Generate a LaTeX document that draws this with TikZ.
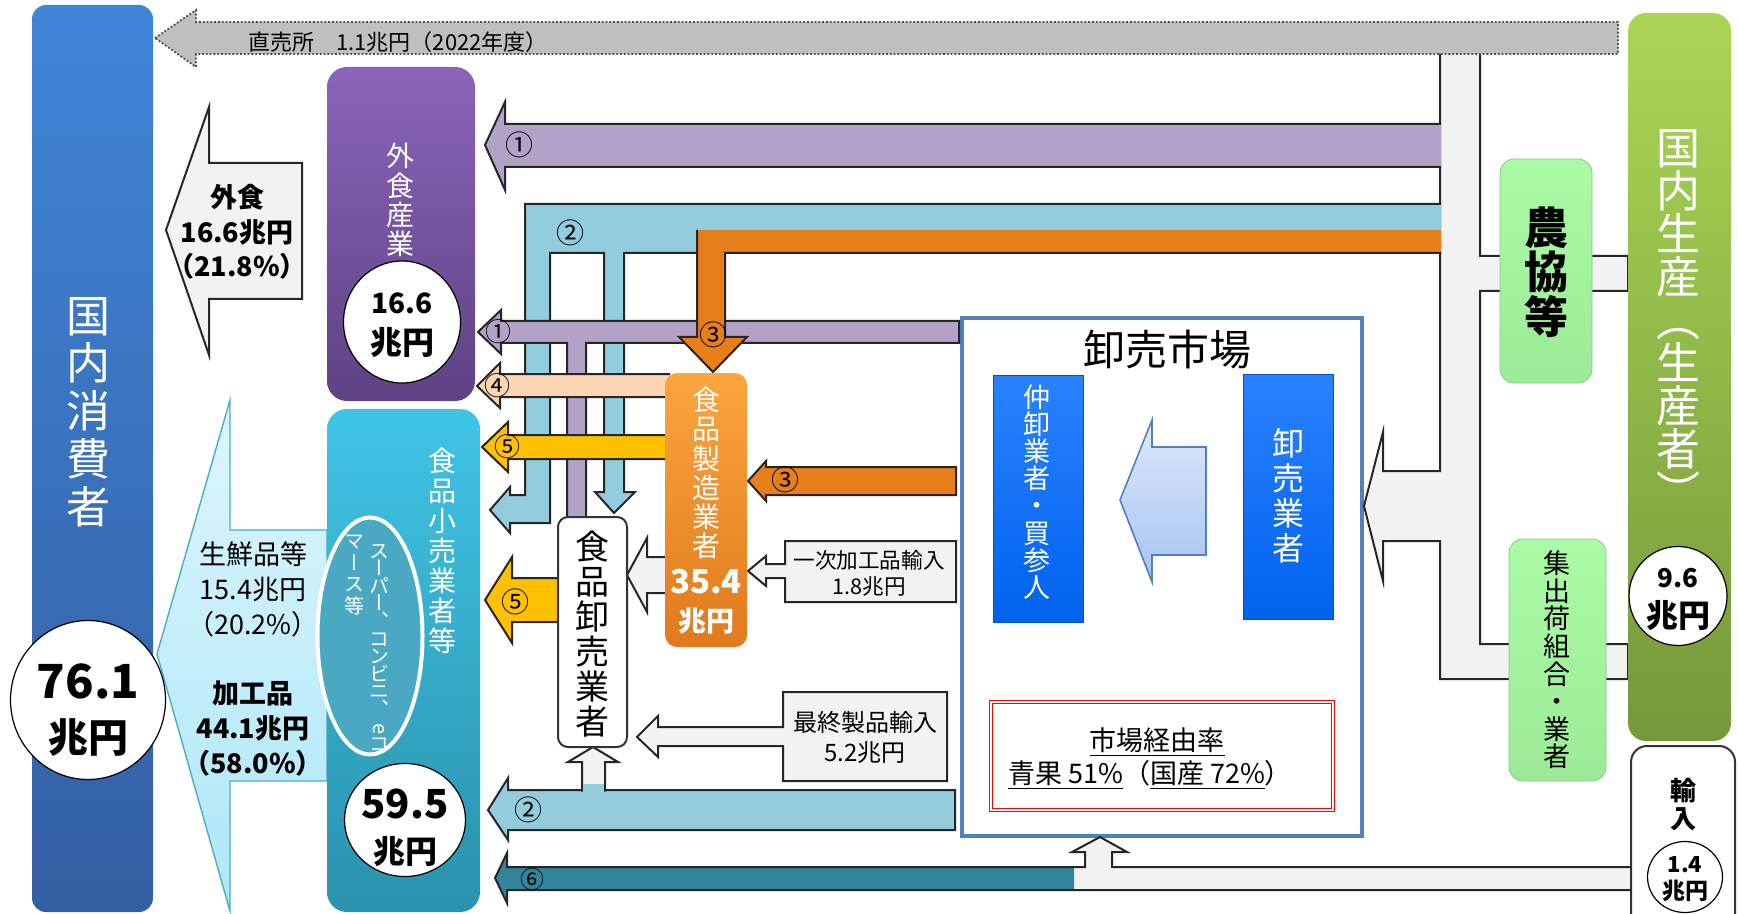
\documentclass[tikz,border=0pt]{standalone}
\usepackage{fontspec}
\usepackage{graphicx}
\setmainfont{Noto Sans CJK JP}
\newfontfamily\jpv{Noto Sans CJK JP}[RawFeature=+vert]
\usetikzlibrary{shapes.geometric}
\definecolor{cA}{HTML}{B3A2C7}
\definecolor{cB}{HTML}{93CDDD}
\definecolor{cC}{HTML}{E67E1A}
\definecolor{cD}{HTML}{FCD5B5}
\definecolor{cE}{HTML}{FFC000}
\definecolor{cF}{HTML}{31849B}
\definecolor{cG}{HTML}{F2F2F2}
\definecolor{cGray}{HTML}{BFBFBF}
\definecolor{consT}{HTML}{4085D8}
\definecolor{consB}{HTML}{345FA3}
\definecolor{gaiT}{HTML}{8B64BA}
\definecolor{gaiB}{HTML}{5E4283}
\definecolor{retT}{HTML}{40C4E6}
\definecolor{retB}{HTML}{2A92AC}
\definecolor{ellC}{HTML}{4AA8C2}
\definecolor{mfgT}{HTML}{FBA53E}
\definecolor{mfgB}{HTML}{E07A1E}
\definecolor{blT}{HTML}{2A82FF}
\definecolor{blB}{HTML}{0062EE}
\definecolor{blD}{HTML}{0050C0}
\definecolor{mktB}{HTML}{4F81BD}
\definecolor{maT}{HTML}{DDE8FB}
\definecolor{maB}{HTML}{A6C3F2}
\definecolor{grT}{HTML}{ABFBA6}
\definecolor{grB}{HTML}{9CEA97}
\definecolor{grD}{HTML}{86C982}
\definecolor{prT}{HTML}{AAD655}
\definecolor{prB}{HTML}{76983A}
\definecolor{lbT}{HTML}{DCF5FD}
\definecolor{lbB}{HTML}{AEE7F7}
\definecolor{lbD}{HTML}{4BACC6}
\makeatletter
\newcommand\vt[2]{\vbox{\baselineskip=#1\relax\lineskiplimit=-100pt\lineskip=0pt\vt@loop#2\@nil}}
\def\vt@loop#1{\ifx\@nil#1\else\hbox to 1.1em{\hss#1\hss}\expandafter\vt@loop\fi}
\makeatother
\begin{document}
\begin{tikzpicture}[x=0.5pt,y=-0.5pt,
  flow/.style={draw=black!85,line width=1pt,line join=miter,miter limit=20},
  wt/.style={text=white,inner sep=0pt},
  bt/.style={text=black,inner sep=0pt},
  circ/.style={ellipse,draw=black,line width=0.6pt,fill=white,inner sep=0pt},
  lab/.style={inner sep=0pt,font=\fontsize{13}{13}\selectfont},
  labbig/.style={inner sep=0pt,font=\fontsize{14}{14}\selectfont}]
\useasboundingbox (0,0) rectangle (1738,914);
\fill[white] (0,0) rectangle (1738,914);

% market frame
\draw[draw=mktB,line width=2.2pt] (962,318) rectangle (1362,836);

% trunk from producers
\draw[flow,fill=cG] (1440,53) -- (1440,471) -- (1383,471) -- (1383,432) -- (1364,506) -- (1383,581) -- (1383,541) -- (1440,541) -- (1440,679) -- (1628,679) -- (1628,644) -- (1480,644) -- (1480,291) -- (1628,291) -- (1628,256) -- (1480,256) -- (1480,53);

% direct sales arrow
\draw[densely dotted,draw=black!70,line width=0.9pt,fill=cGray] (155,38) -- (196,10) -- (196,22) -- (1618,22) -- (1618,54) -- (196,54) -- (196,67) -- cycle;
\node[bt,font=\fontsize{11}{11}\selectfont] (tdirect) at (398,42) {直売所　1.1兆円（2022年度）};

% food service -> consumers
\draw[flow,fill=cG] (166,230) -- (209,107) -- (209,163) -- (302,163) -- (302,299) -- (209,299) -- (209,355) -- cycle;
% retail -> consumers
\draw[draw=lbD,line width=0.7pt,top color=lbT,bottom color=lbB] (157,654) -- (230,400) -- (230,530) -- (327,530) -- (327,781) -- (230,781) -- (230,911) -- cycle;

% flow 1 upper
\draw[flow,fill=cA] (1441,124) -- (505,124) -- (505,102) -- (485,145) -- (505,190) -- (505,167) -- (1441,167);
% flow 2 (light blue)
\draw[flow,fill=cB] (1441,204) -- (525,204) -- (525,495) -- (510,495) -- (510,487) -- (490,510) -- (510,533) -- (510,523) -- (550,523) -- (550,253) -- (604,253) -- (604,492) -- (595,492) -- (614,513) -- (635,492) -- (624,492) -- (624,253) -- (1441,253);
% flow 1 lower (from market)
\draw[flow,fill=cA] (959,321) -- (501,321) -- (501,310) -- (478,332) -- (501,354) -- (501,343) -- (567,343) -- (567,517) -- (586,517) -- (586,343) -- (959,343) -- cycle;
% flow 3 (orange)
\fill[cC] (697,230) rectangle (1441,253);
\draw[flow,fill=cC] (697,230) -- (697,337) -- (679,337) -- (713,372) -- (747,337) -- (725,337) -- (725,253) -- (1441,253);
% flow 4, 5
\draw[flow,fill=cD] (670,374) -- (500,374) -- (500,363) -- (477,386) -- (500,408) -- (500,397) -- (670,397);
\draw[flow,fill=cE] (670,435) -- (508,435) -- (508,422) -- (482,447) -- (508,472) -- (508,459) -- (670,459);
\draw[flow,fill=cE] (562,578) -- (512,578) -- (512,557) -- (485,600) -- (512,643) -- (512,622) -- (562,622);
% manufacturer -> wholesaler
\draw[flow,fill=cG] (669,557) -- (647,557) -- (647,538) -- (627,575) -- (647,612) -- (647,593) -- (669,593);
% imports
\draw[flow,fill=cG] (785,541) -- (956,541) -- (956,602) -- (785,602) -- (785,578) -- (766,578) -- (766,586) -- (748,571) -- (766,556) -- (766,564) -- (785,564) -- cycle;
\node[bt,align=center,font=\fontsize{10.8}{13}\selectfont] (timp1) at (869,573) {一次加工品輸入\\1.8兆円};
\draw[flow,fill=cG] (783,692) -- (947,692) -- (947,781) -- (783,781) -- (783,746) -- (658,746) -- (658,757) -- (637,737) -- (658,716) -- (658,727) -- (783,727) -- cycle;
\node[bt,align=center,font=\fontsize{12}{15}\selectfont] (timp2) at (865,737) {最終製品輸入\\5.2兆円};
% flow 3 lower
\draw[flow,fill=cC] (956,467) -- (766,467) -- (766,461) -- (748,481) -- (766,501) -- (766,495) -- (956,495) -- cycle;
% flow 2 lower
\draw[flow,fill=cB] (955,790) -- (508,790) -- (508,778) -- (488,810) -- (508,840) -- (508,830) -- (955,830) -- cycle;
\draw[flow,fill=cG] (582,791.5) -- (582,762) -- (568,762) -- (593,747) -- (618,762) -- (605,762) -- (605,791.5);
\fill[cB] (583,784) rectangle (604,792);
% flow 6
\fill[cG] (1631,867) -- (1112,867) -- (1112,852) -- (1127,852) -- (1100,837) -- (1072,852) -- (1085,852) -- (1085,867) -- (507,867) -- (507,853) -- (495,878) -- (507,903) -- (507,890) -- (1631,890) -- cycle;
\fill[cF] (1074,867) -- (507,867) -- (507,853) -- (495,878) -- (507,903) -- (507,890) -- (1074,890) -- cycle;
\draw[flow] (1631,867) -- (1112,867) -- (1112,852) -- (1127,852) -- (1100,837) -- (1072,852) -- (1085,852) -- (1085,867) -- (507,867) -- (507,853) -- (495,878) -- (507,903) -- (507,890) -- (1631,890);

% consumers
\path[rounded corners=7pt,top color=consT,bottom color=consB] (32,5) rectangle (153,912);
\node[wt,font=\jpv\fontsize{22}{22}\selectfont] (tcons) at (88,412) {\vt{23.9pt}{国内消費者}};
\node[circ,minimum width=77.5pt,minimum height=79.5pt] (c761) at (88,700) {};
\node[bt,font=\bfseries\fontsize{23.5}{24}\selectfont] (n761) at (88,681) {76.1};
\node[bt,font=\bfseries\fontsize{20}{20}\selectfont] (u761) at (88,738) {兆円};

\node[bt,align=center,font=\bfseries\fontsize{13.5}{17.2}\selectfont] (tgaiflow) at (237,232) {外食\\16.6兆円\\（21.8\%）};
\node[bt,align=center,font=\fontsize{13.5}{17.5}\selectfont] (tfresh) at (253,589) {生鮮品等\\15.4兆円\\（20.2\%）};
\node[bt,align=center,font=\bfseries\fontsize{13.5}{17.5}\selectfont] (tproc) at (253,729) {加工品\\44.1兆円\\（58.0\%）};

% food service industry
\path[rounded corners=10pt,top color=gaiT,bottom color=gaiB] (327,67) rectangle (475,401);
\node[wt,font=\jpv\fontsize{14}{14}\selectfont] (tgai) at (400,200) {\vt{14.6pt}{外食産業}};
\node[circ,minimum width=58.5pt,minimum height=61pt] (c166) at (402,322) {};
\node[bt,font=\bfseries\fontsize{14}{14}\selectfont] (n166) at (402,303) {16.6};
\node[bt,font=\bfseries\fontsize{16}{16}\selectfont] (u166) at (402,343) {兆円};

% retail
\path[rounded corners=10pt,top color=retT,bottom color=retB] (327,409) rectangle (480,912);
\node[wt,font=\jpv\fontsize{14}{14}\selectfont] (tret) at (442,551) {\vt{15pt}{食品小売業者等}};
\node[ellipse,draw=white,line width=2pt,fill=ellC,minimum width=52.5pt,minimum height=118.5pt,inner sep=0pt] (ell) at (370,636) {};
\node[wt,font=\jpv\fontsize{10}{10}\selectfont] (tsup1) at (379,648) {\vt{8.8pt}{スーパー、コンビニ、{\rotatebox[origin=c]{-90}{e}}コ}};
\node[wt,font=\jpv\fontsize{10}{10}\selectfont] (tsup2) at (354,575) {\vt{10.8pt}{マース等}};
\node[circ,minimum width=60.5pt,minimum height=56.5pt] (c595) at (405,820) {};
\node[bt,font=\bfseries\fontsize{20}{20}\selectfont] (n595) at (405,804) {59.5};
\node[bt,font=\bfseries\fontsize{16}{16}\selectfont] (u595) at (405,852) {兆円};

% manufacturer
\path[rounded corners=6pt,top color=mfgT,bottom color=mfgB] (665,373) rectangle (747,647);
\node[wt,font=\jpv\fontsize{14}{14}\selectfont] (tmfg) at (706,473) {\vt{14.6pt}{食品製造業者}};
\node[wt,font=\bfseries\fontsize{16.5}{16.5}\selectfont] (n354) at (706,582) {35.4};
\node[wt,font=\bfseries\fontsize{14}{14}\selectfont] (u354) at (706,621) {兆円};

% wholesaler
\draw[fill=white,draw=black!80,line width=1pt,rounded corners=5pt] (558,517) rectangle (627,747);
\node[bt,font=\jpv\fontsize{17}{17}\selectfont] (twhole) at (592,634) {\vt{17.5pt}{食品卸売業者}};

% market contents
\node[bt,font=\fontsize{21}{21}\selectfont] (tmkt) at (1167,350) {卸売市場};
\path[top color=blT,bottom color=blB,draw=blD,line width=0.5pt] (993,375) rectangle (1083,622);
\node[wt,font=\jpv\fontsize{13.5}{13.5}\selectfont] (tnaka) at (1037,492) {\vt{13.6pt}{仲卸業者・買参人}};
\path[top color=blT,bottom color=blB,draw=blD,line width=0.5pt] (1243,374) rectangle (1333,619);
\node[wt,font=\jpv\fontsize{16}{16}\selectfont] (toroshi) at (1288,496) {\vt{17.5pt}{卸売業者}};
\draw[draw=mktB,line width=0.8pt,top color=maT,bottom color=maB] (1120,500) -- (1152,420) -- (1152,447) -- (1206,447) -- (1206,555) -- (1152,555) -- (1152,582) -- cycle;
\draw[red,line width=0.5pt,double=white,double distance=1.3pt] (991,702) rectangle (1333,810);
\node[bt,font=\fontsize{13.5}{13.5}\selectfont] (trate1) at (1157,742) {\underline{市場経由率}};
\node[bt,font=\fontsize{13.5}{13.5}\selectfont] (trate2) at (1150,775) {\underline{青果 51\%}（\underline{国産 72\%}）};

% producers side
\path[rounded corners=7pt,top color=grT,bottom color=grB,draw=grD,line width=0.4pt] (1500,159) rectangle (1592,383);
\node[bt,font=\jpv\bfseries\fontsize{22}{22}\selectfont] (tja) at (1546,272) {\vt{22.2pt}{農協等}};
\path[rounded corners=7pt,top color=grT,bottom color=grB,draw=grD,line width=0.4pt] (1509,539) rectangle (1606,781);
\node[bt,font=\jpv\fontsize{13.5}{13.5}\selectfont] (tship) at (1557,660) {\vt{13.8pt}{集出荷組合・業者}};
\path[rounded corners=9pt,top color=prT,bottom color=prB] (1628,13) rectangle (1731,741);
\node[wt,font=\jpv\fontsize{22}{22}\selectfont] (tprod) at (1678,319) {\vt{21.5pt}{国内生産（生産者）}};
\node[circ,minimum width=49pt,minimum height=49.5pt] (c96) at (1678,596) {};
\node[bt,font=\bfseries\fontsize{13}{13}\selectfont] (n96) at (1678,578) {9.6};
\node[bt,font=\bfseries\fontsize{16}{16}\selectfont] (u96) at (1678,616) {兆円};
\draw[fill=white,draw=black!80,line width=1pt,rounded corners=8pt] (1631,746) rectangle (1735,950);
\node[bt,font=\jpv\bfseries\fontsize{13}{13}\selectfont] (timport) at (1683,805) {\vt{14pt}{輸入}};
\node[circ,minimum width=37.5pt,minimum height=35.5pt] (c14) at (1685,877) {};
\node[bt,font=\bfseries\fontsize{11}{11}\selectfont] (n14) at (1685,865) {1.4};
\node[bt,font=\bfseries\fontsize{11.5}{11.5}\selectfont] (u14) at (1685,891) {兆円};

% circled labels
\node[labbig] (l1a) at (519,145) {①};
\node[labbig] (l2a) at (570,233) {②};
\node[labbig] (l3a) at (713,335) {③};
\node[lab] (l1b) at (498,332) {①};
\node[lab] (l4) at (497,386) {④};
\node[lab] (l5a) at (507,447) {⑤};
\node[labbig] (l5b) at (515,602) {⑤};
\node[labbig] (l2b) at (528,810) {②};
\node[lab,font=\fontsize{12}{12}\selectfont] (l6) at (532,879) {⑥};
\node[labbig] (l3b) at (785,480) {③};
\end{tikzpicture}
\end{document}
